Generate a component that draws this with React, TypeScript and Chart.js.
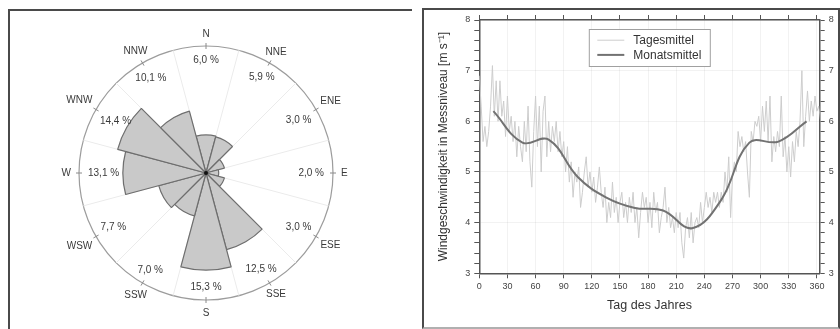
import React, { useEffect, useRef } from "react";
import { Chart, registerables } from "chart.js";

Chart.register(...registerables);

const FONT = '"Liberation Sans", Arial, Helvetica, sans-serif';
Chart.defaults.font.family = FONT;

// ---------- Wind rose data ----------
const directions = ["N", "NNE", "ENE", "E", "ESE", "SSE", "S", "SSW", "WSW", "W", "WNW", "NNW"];
const frequencies = [6.0, 5.9, 3.0, 2.0, 3.0, 12.5, 15.3, 7.0, 7.7, 13.1, 14.4, 10.1];
const roseMax = 20;

// ---------- Wind speed data ----------
const dailyStartDay = 0;
const dailyStepDays = 2;
const dailyMeans = [
  6.9, 6.3, 5.6, 5.9, 5.5, 5.8, 6.3, 7.1, 6.1, 6.8,
  6.0, 6.8, 6.1, 6.4, 5.7, 6.5, 5.8, 6.1, 5.6, 6.0,
  5.3, 5.9, 5.5, 5.2, 6.0, 5.4, 6.3, 5.2, 4.7, 5.8,
  6.5, 5.5, 6.3, 5.0, 6.2, 6.5, 5.3, 6.0, 5.4, 5.9,
  5.6, 6.0, 5.4, 5.8, 5.3, 5.6, 5.0, 5.5, 4.8, 5.2,
  4.5, 5.0, 4.8, 5.1, 4.3, 4.6, 5.0, 5.3, 4.7, 5.0,
  4.6, 4.9, 4.4, 4.7, 5.1, 4.6, 4.3, 4.7, 4.0, 4.4,
  4.1, 4.8, 4.2, 4.5, 4.0, 4.4, 4.6, 4.1, 4.4, 4.0,
  4.5, 4.2, 4.6, 4.0, 4.3, 3.7, 4.2, 4.6, 4.3, 4.5,
  4.0, 4.4, 3.9, 4.6, 4.2, 4.4, 3.8, 4.1, 4.3, 4.7,
  4.0, 4.3, 3.9, 4.1, 3.8, 4.2, 3.9, 4.2, 3.6, 3.3,
  3.9, 4.1, 3.7, 4.2, 3.6, 4.0, 4.1, 3.9, 4.4, 4.0,
  4.3, 4.6, 4.3, 4.5, 4.2, 4.6, 4.4, 4.6, 4.3, 4.6,
  4.4, 5.0, 4.6, 5.3, 4.1, 4.9, 5.2, 5.0, 5.8, 5.5,
  5.7, 5.4, 5.6, 5.0, 4.5, 5.8, 5.6, 6.0, 5.9, 6.1,
  5.6, 6.3, 5.8, 6.4, 5.6, 6.5, 5.2, 5.7, 5.4, 5.8,
  5.5, 6.5, 5.3, 5.7, 5.0, 5.5, 4.9, 5.6, 5.2, 5.8,
  5.5, 6.0, 7.0, 5.5, 6.1, 6.6, 6.0, 6.4, 6.1, 6.5,
  6.2, 6.3, 6.0,
];
const monthDays = [15, 46, 74, 105, 135, 166, 196, 227, 258, 288, 319, 349];
const monthlyMeans = [6.2, 5.58, 5.64, 4.9, 4.5, 4.29, 4.24, 3.89, 4.45, 5.58, 5.6, 6.0];

const xMin = 0;
const xMax = 363;
const xStep = 30;
const yMin = 3;
const yMax = 8;
const yMinorStep = 0.2;

const yTitle = "Windgeschwindigkeit in Messniveau [m s\u207B\u00B9]";
const xTitle = "Tag des Jahres";
const dailyLabel = "Tagesmittel";
const monthlyLabel = "Monatsmittel";

function WindRose() {
  const ref = useRef<HTMLCanvasElement>(null);
  useEffect(() => {
    const labelsPlugin = {
      id: "roseLabels",
      afterDraw(chart: any) {
        const scale = chart.scales.r;
        const ctx = chart.ctx as CanvasRenderingContext2D;
        const n = directions.length;
        const R = scale.drawingArea;
        ctx.save();
        ctx.strokeStyle = "#8a8a8a";
        ctx.lineWidth = 1;
        for (let i = 0; i < n; i++) {
          const a = scale.getPointPosition(i + 0.5, R - 3);
          const b = scale.getPointPosition(i + 0.5, R + 3);
          ctx.beginPath();
          ctx.moveTo(a.x, a.y);
          ctx.lineTo(b.x, b.y);
          ctx.stroke();
        }
        ctx.font = `10px ${FONT}`;
        ctx.fillStyle = "#3a3a3a";
        ctx.textAlign = "center";
        ctx.textBaseline = "middle";
        const halfH = 4.5;
        for (let i = 0; i < n; i++) {
          const ang = (i * 2 * Math.PI) / n;
          const s = Math.abs(Math.sin(ang));
          const c = Math.abs(Math.cos(ang));
          const name = directions[i];
          const wName = ctx.measureText(name).width / 2;
          const extName = Math.max(s * wName, c * halfH);
          const p = scale.getPointPosition(i + 0.5, R + 8 + extName);
          ctx.fillText(name, p.x, p.y + 0.5);
          const pct = frequencies[i].toFixed(1).replace(".", ",") + " %";
          const wPct = ctx.measureText(pct).width / 2;
          const extPct = Math.max(s * wPct, c * halfH);
          const q = scale.getPointPosition(i + 0.5, R - 9 - extPct);
          ctx.fillText(pct, q.x, q.y + 0.5);
        }
        ctx.fillStyle = "#111";
        ctx.beginPath();
        ctx.arc(scale.xCenter, scale.yCenter, 2, 0, Math.PI * 2);
        ctx.fill();
        ctx.restore();
      },
    };
    const chart = new Chart(ref.current!, {
      type: "polarArea",
      data: {
        labels: directions,
        datasets: [
          {
            data: frequencies,
            backgroundColor: "#c9c9c9",
            borderColor: "#6e6e6e",
            borderWidth: 1.2,
          },
        ],
      },
      options: {
        responsive: false,
        animation: false,
        devicePixelRatio: 1,
        layout: { padding: { left: 69, top: 35, right: 79, bottom: 29 } },
        plugins: { legend: { display: false }, tooltip: { enabled: false } },
        scales: {
          r: {
            min: 0,
            max: roseMax,
            startAngle: -15,
            ticks: { display: false, stepSize: roseMax },
            pointLabels: { display: false },
            angleLines: { display: true, color: "#ebebeb", lineWidth: 1 },
            grid: { circular: true, color: "#9c9c9c", lineWidth: 1.2 },
          },
        },
      },
      plugins: [labelsPlugin],
    } as any);
    return () => chart.destroy();
  }, []);
  return (
    <canvas
      ref={ref}
      width={402}
      height={318}
      style={{ position: "absolute", left: 10, top: 11, width: 402, height: 318 }}
    />
  );
}

function WindSpeed() {
  const ref = useRef<HTMLCanvasElement>(null);
  useEffect(() => {
    const dailyPoints = dailyMeans.map((v, i) => ({ x: dailyStartDay + i * dailyStepDays, y: v }));
    const monthlyPoints = monthlyMeans.map((v, i) => ({ x: monthDays[i], y: v }));
    const legendOrder = [0, 1];
    const legendPlugin = {
      id: "legendBox",
      afterDatasetsDraw(chart: any) {
        const { ctx, chartArea } = chart;
        const x0 = chartArea.left + 110;
        const y0 = chartArea.top + 9.5;
        const w = 121;
        const h = 37;
        ctx.save();
        ctx.fillStyle = "#ffffff";
        ctx.fillRect(x0, y0, w, h);
        ctx.strokeStyle = "#a0a0a0";
        ctx.lineWidth = 1;
        ctx.strokeRect(x0, y0, w, h);
        legendOrder.forEach((dsIndex, row) => {
          const ds = chart.data.datasets[dsIndex];
          const cy = y0 + 10.7 + row * 14.7;
          ctx.strokeStyle = ds.borderColor;
          ctx.lineWidth = ds.borderWidth;
          ctx.beginPath();
          ctx.moveTo(x0 + 8, cy);
          ctx.lineTo(x0 + 35, cy);
          ctx.stroke();
          ctx.fillStyle = "#333";
          ctx.font = `12px ${FONT}`;
          ctx.textAlign = "left";
          ctx.textBaseline = "middle";
          ctx.fillText(ds.label, x0 + 44, cy + 0.5);
        });
        ctx.restore();
      },
    };
    const isMajor = (v: number) => Math.abs(v - Math.round(v)) < 1e-6;
    const axisColor = "#555";
    const tickFont = { family: FONT, size: 9 };
    const chart = new Chart(ref.current!, {
      type: "line",
      data: {
        datasets: [
          {
            label: dailyLabel,
            data: dailyPoints,
            borderColor: "#cdcdcd",
            borderWidth: 1,
            pointRadius: 0,
            tension: 0,
            order: 2,
          },
          {
            label: monthlyLabel,
            data: monthlyPoints,
            borderColor: "#727272",
            borderWidth: 2,
            pointRadius: 0,
            tension: 0.4,
            order: 1,
          },
        ],
      },
      options: {
        responsive: false,
        animation: false,
        devicePixelRatio: 1,
        layout: { padding: { left: 8, right: 0, top: 0, bottom: 9.7 } },
        plugins: { legend: { display: false }, tooltip: { enabled: false } },
        scales: {
          x: {
            type: "linear",
            position: "bottom",
            min: xMin,
            max: xMax,
            ticks: { stepSize: xStep, includeBounds: false, font: tickFont, color: "#444", padding: 3, maxRotation: 0 },
            grid: { color: "rgba(0,0,0,0.05)", tickColor: axisColor, tickLength: 5 },
            border: { color: axisColor, width: 1.5 },
            title: { display: true, text: xTitle, color: "#333", font: { family: FONT, size: 12.5 } },
            afterFit: (s: any) => {
              s.height = 44;
            },
          },
          x2: {
            type: "linear",
            position: "top",
            min: xMin,
            max: xMax,
            ticks: { stepSize: xStep, includeBounds: false, display: false },
            grid: { drawOnChartArea: false, tickColor: axisColor, tickLength: 5 },
            border: { color: axisColor, width: 1.5 },
            afterFit: (s: any) => {
              s.height = 10;
            },
          },
          y: {
            type: "linear",
            position: "left",
            min: yMin,
            max: yMax,
            ticks: {
              stepSize: yMinorStep,
              autoSkip: false,
              font: tickFont,
              color: "#444",
              padding: 4,
              callback: (v: any) => (isMajor(Number(v)) ? String(Math.round(Number(v))) : ""),
            },
            grid: {
              color: (c: any) => (c.tick && isMajor(c.tick.value) ? "rgba(0,0,0,0.05)" : "rgba(0,0,0,0)"),
              tickColor: axisColor,
              tickLength: 5,
            },
            border: { color: axisColor, width: 1.5 },
            title: { display: true, text: yTitle, color: "#333", font: { family: FONT, size: 12 } },
            afterFit: (s: any) => {
              s.width = 47.3;
            },
          },
          y2: {
            type: "linear",
            position: "right",
            min: yMin,
            max: yMax,
            ticks: {
              stepSize: yMinorStep,
              autoSkip: false,
              font: tickFont,
              color: "#444",
              padding: 4,
              callback: (v: any) => (isMajor(Number(v)) ? String(Math.round(Number(v))) : ""),
            },
            grid: { drawOnChartArea: false, tickColor: axisColor, tickLength: 5 },
            border: { color: axisColor, width: 1.5 },
            afterFit: (s: any) => {
              s.width = 19.3;
            },
          },
        },
      },
      plugins: [legendPlugin],
    } as any);
    return () => chart.destroy();
  }, []);
  return (
    <canvas
      ref={ref}
      width={415}
      height={317}
      style={{ position: "absolute", left: 424, top: 10, width: 415, height: 317 }}
    />
  );
}

export default function App() {
  return (
    <div
      style={{
        position: "fixed",
        left: 0,
        top: 0,
        width: 840,
        height: 329,
        overflow: "hidden",
        background: "#fff",
      }}
    >
      <div
        style={{
          position: "absolute",
          left: 8,
          top: 9,
          width: 404,
          height: 340,
          boxSizing: "border-box",
          borderLeft: "2px solid #4a4a4a",
          borderTop: "2px solid #4a4a4a",
        }}
      />
      <div
        style={{
          position: "absolute",
          left: 422,
          top: 8,
          width: 418,
          height: 321,
          boxSizing: "border-box",
          borderLeft: "2px solid #4a4a4a",
          borderTop: "2px solid #4a4a4a",
          borderRight: "2px solid #4a4a4a",
          borderBottom: "2px solid #b0b0b0",
        }}
      />
      <WindRose />
      <WindSpeed />
    </div>
  );
}
